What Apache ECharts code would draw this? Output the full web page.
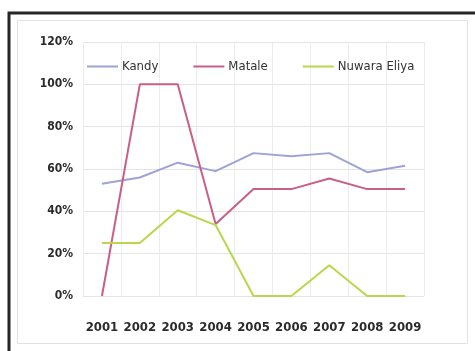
<!DOCTYPE html>
<html>
<head>
<meta charset="utf-8">
<script src="https://cdn.jsdelivr.net/npm/echarts@6/dist/echarts.min.js"></script>
<style>
  html, body { margin: 0; padding: 0; background: #fff; }
  #main { width: 475px; height: 351px; }
</style>
</head>
<body>
<div id="main"></div>
<script>
var years = ['2001', '2002', '2003', '2004', '2005', '2006', '2007', '2008', '2009'];
var kandy = [53, 56, 63, 59, 67.5, 66, 67.5, 58.5, 61.5];
var matale = [0, 100, 100, 34, 50.5, 50.5, 55.5, 50.5, 50.5];
var nuwaraEliya = [25, 25, 40.5, 33.5, 0, 0, 14.5, 0, 0];

var labelFont = '"Liberation Sans Narrow", "DejaVu Sans Condensed", sans-serif';

var myChart = echarts.init(document.getElementById('main'));

var option = {
    animation: false,
    backgroundColor: '#fff',
    graphic: [
        { type: 'rect', shape: { x: 9, y: 13, width: 480, height: 360 },
          style: { fill: 'none', stroke: '#262626', lineWidth: 3 } },
        { type: 'rect', shape: { x: 17.5, y: 20.5, width: 450, height: 323 },
          style: { fill: 'none', stroke: '#e2e2e2', lineWidth: 1 } }
    ],
    grid: { left: 83, right: 51, top: 42, bottom: 55 },
    legend: {
        left: 82, top: 55,
        itemWidth: 31, itemHeight: 2, itemGap: 35,
        icon: 'rect',
        textStyle: { fontFamily: labelFont, fontSize: 13, color: '#333', padding: [0, 0, 0, -1] },
        data: ['Kandy', 'Matale', 'Nuwara Eliya']
    },
    xAxis: {
        type: 'category',
        data: years,
        boundaryGap: true,
        axisLine: { show: false },
        axisTick: { show: false },
        splitLine: { show: true, lineStyle: { color: '#ececec', width: 1 } },
        axisLabel: { fontFamily: labelFont, fontWeight: 'bold', fontSize: 13, color: '#2b2b2b', margin: 25, interval: 0 }
    },
    yAxis: {
        type: 'value',
        min: 0, max: 120, interval: 20,
        axisLine: { show: false },
        axisTick: { show: false },
        splitLine: { lineStyle: { color: '#e4e4e4', width: 1 } },
        axisLabel: { fontFamily: labelFont, fontWeight: 'bold', fontSize: 12, color: '#2b2b2b', margin: 10,
                     formatter: '{value}%' }
    },
    series: [
        { name: 'Kandy', type: 'line', data: kandy, symbol: 'none',
          itemStyle: { color: '#9ea3d6' }, lineStyle: { color: '#9ea3d6', width: 2 } },
        { name: 'Matale', type: 'line', data: matale, symbol: 'none',
          itemStyle: { color: '#c95f88' }, lineStyle: { color: '#c95f88', width: 2 } },
        { name: 'Nuwara Eliya', type: 'line', data: nuwaraEliya, symbol: 'none',
          itemStyle: { color: '#b8d84a' }, lineStyle: { color: '#b8d84a', width: 2 } }
    ]
};
myChart.setOption(option);
</script>
</body>
</html>
